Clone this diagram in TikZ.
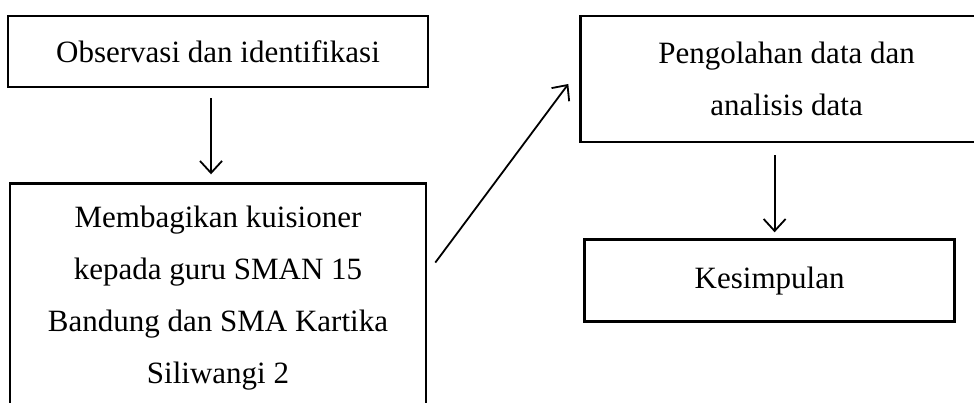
\documentclass[tikz,border=0pt]{standalone}
\usepackage{fontspec}
\setmainfont{Liberation Serif}
\usetikzlibrary{positioning, arrows.meta}
\tikzset{
>={Straight Barb[length=12pt,width=22pt]}, % open arrow heads
box/.style={draw, line width=2.6pt, align=center, inner sep=0pt}, % sets the properties for each box
flow/.style={->, line width=1.8pt}, % the arrows between the boxes
}

\begin{document}
\begin{tikzpicture}[font=\fontsize{31}{52}\selectfont]
    \useasboundingbox (0,0) rectangle (974pt,403pt);

    \node[box, minimum width=420pt, minimum height=71pt] (obs) at (218pt,351.5pt) {Observasi dan identifikasi};
    \node[box, minimum width=416pt, minimum height=229pt, below=94pt of obs] (kuis) {Membagikan kuisioner\\kepada guru SMAN 15\\Bandung dan SMA Kartika\\Siliwangi 2};
    \node[box, minimum width=412pt, minimum height=126pt, right=150pt of obs.north east, anchor=north west] (olah) {Pengolahan data dan\\analisis data};
    \node[box, minimum width=370pt, minimum height=82pt, below=95pt of olah.south west, anchor=north west, xshift=4pt] (simp) {Kesimpulan};

    \draw[flow] ([xshift=-7pt,yshift=-10pt]obs.south) -- ([xshift=-7pt,yshift=8pt]kuis.north);
    \draw[flow] ([xshift=8pt,yshift=35.5pt]kuis.east) -- ([xshift=-11pt,yshift=-5pt]olah.west);
    \draw[flow] ([xshift=-12pt,yshift=-12pt]olah.south) -- ([xshift=5pt,yshift=6pt]simp.north);

\end{tikzpicture}
\end{document}
